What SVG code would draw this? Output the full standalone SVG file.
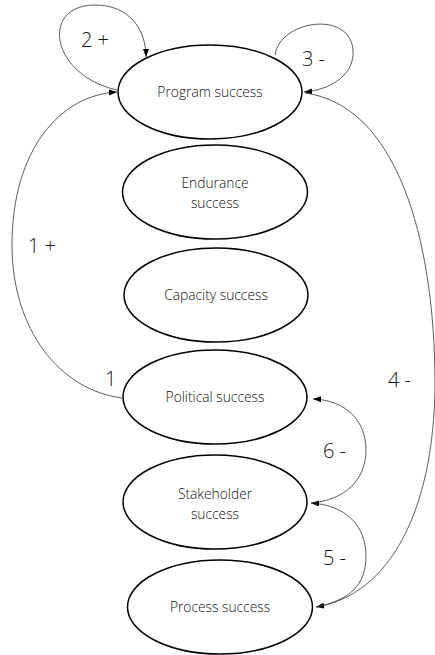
<svg xmlns="http://www.w3.org/2000/svg" width="435" height="655" viewBox="0 0 435 655">
<style>
.node ellipse{fill:#fff;stroke:#000;stroke-width:1.5}
.node text{font-family:"Open Sans","Liberation Sans",sans-serif;font-weight:300;font-size:13.8px;fill:#111;text-anchor:middle}
.conn path{fill:none;stroke:#333;stroke-width:0.8}
.lbl{font-family:"Open Sans","Liberation Sans",sans-serif;font-weight:300;font-size:20px;fill:#111}
</style>
<defs>
<marker id="arr" markerUnits="userSpaceOnUse" markerWidth="9" markerHeight="7" refX="8" refY="3" orient="auto">
<path d="M0,0 L8,3 L0,6 z" fill="#000"/>
</marker>
</defs>
<g class="conn">
<path d="M122,398 C60,390 12,330 12,245 C12,150 60,95 117,92" marker-end="url(#arr)"/>
<path d="M117,90 C50,75 40,5 95,5 C130,5 146,30 146,57" marker-end="url(#arr)"/>
<path d="M275,55 C280,20 350,10 353,50 C355,75 330,90 304,92" marker-end="url(#arr)"/>
<path d="M305,93 C395,105 435,235 435,385 C434,510 390,595 316,607" marker-end="url(#arr)"/>
<path d="M316,607 C350,600 366,585 366,556 C366,525 345,505 311,503" marker-end="url(#arr)"/>
<path d="M311,503 C345,500 366,480 366,450 C366,420 345,400 313,399" marker-end="url(#arr)"/>
</g>
<g id="program" class="node"><ellipse cx="210" cy="92" rx="92" ry="47"/><text x="210" y="97">Program success</text></g>
<g id="endurance" class="node"><ellipse cx="215" cy="192" rx="92.5" ry="47"/><text x="215" y="188">Endurance</text><text x="215" y="208">success</text></g>
<g id="capacity" class="node"><ellipse cx="216" cy="295" rx="92" ry="47"/><text x="216" y="300">Capacity success</text></g>
<g id="political" class="node"><ellipse cx="215" cy="397" rx="92" ry="47"/><text x="215" y="402">Political success</text></g>
<g id="stakeholder" class="node"><ellipse cx="215" cy="502" rx="92" ry="47"/><text x="215" y="499">Stakeholder</text><text x="215" y="519">success</text></g>
<g id="process" class="node"><ellipse cx="220" cy="607" rx="92.5" ry="47"/><text x="220" y="612">Process success</text></g>
<g id="labels">
<text class="lbl" x="81" y="47">2 +</text>
<text class="lbl" x="302" y="66">3 -</text>
<text class="lbl" x="28" y="253">1 +</text>
<text class="lbl" x="105" y="386">1</text>
<text class="lbl" x="388" y="387">4 -</text>
<text class="lbl" x="323" y="458">6 -</text>
<text class="lbl" x="323" y="565">5 -</text>
</g>
</svg>
